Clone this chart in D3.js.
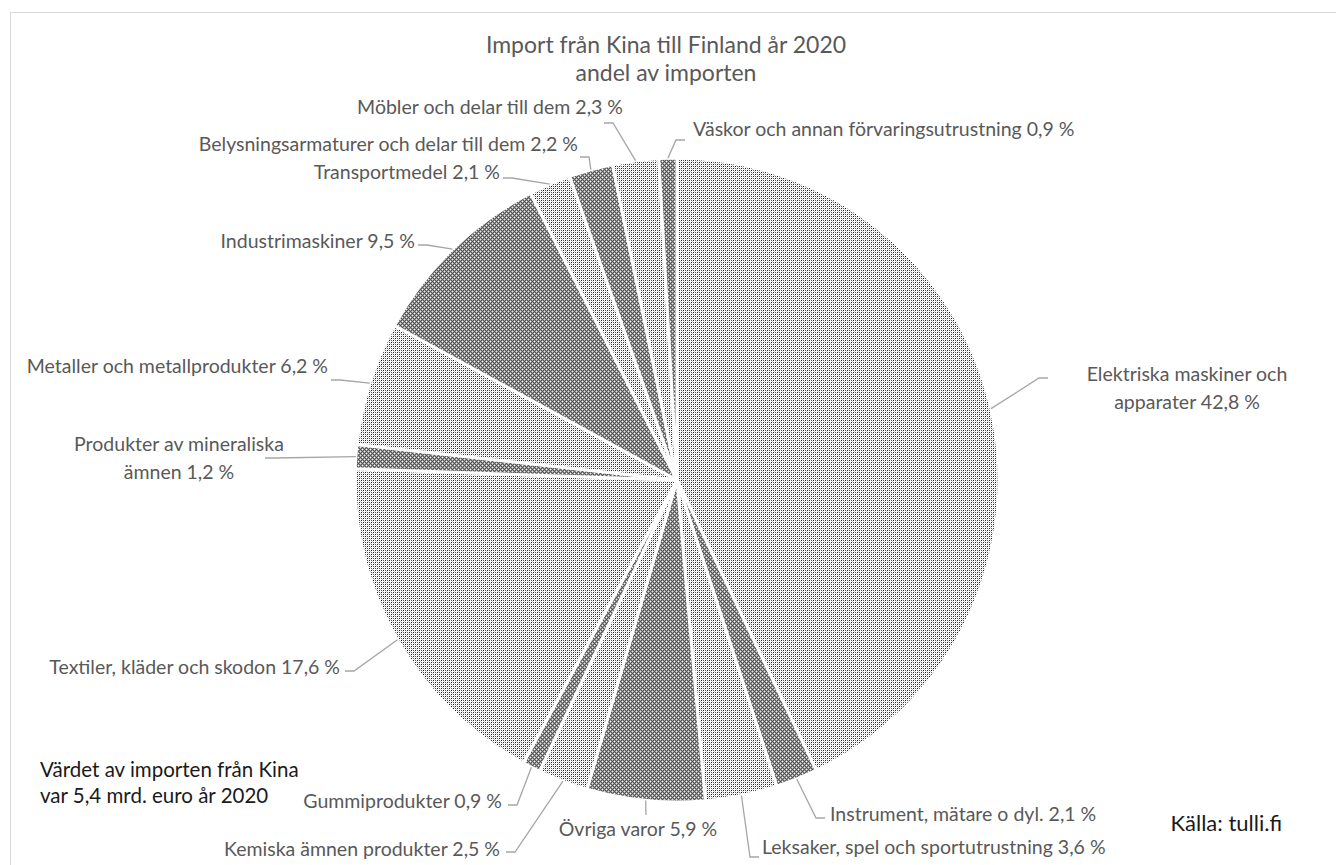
<!DOCTYPE html>
<html>
<head>
<meta charset="utf-8">
<script src="https://cdn.jsdelivr.net/npm/d3@7"></script>
<style>
body { margin: 0; background: #fff; }
text { font-family: Lato, "Open Sans", sans-serif; }
</style>
</head>
<body>
<div id="mypie"></div>
<script>
const categories = [
  "Elektriska maskiner och apparater",
  "Instrument, mätare o dyl.",
  "Leksaker, spel och sportutrustning",
  "Övriga varor",
  "Kemiska ämnen produkter",
  "Gummiprodukter",
  "Textiler, kläder och skodon",
  "Produkter av mineraliska ämnen",
  "Metaller och metallprodukter",
  "Industrimaskiner",
  "Transportmedel",
  "Belysningsarmaturer och delar till dem",
  "Möbler och delar till dem",
  "Väskor och annan förvaringsutrustning"
];
const shares = [42.8, 2.1, 3.6, 5.9, 2.5, 0.9, 17.6, 1.2, 6.2, 9.5, 2.1, 2.2, 2.3, 0.9];

const titleLines = ["Import från Kina till Finland år 2020", "andel av importen"];
const noteLines = ["Värdet av importen från Kina", "var 5,4 mrd. euro år 2020"];
const sourceText = "Källa: tulli.fi";

// where Excel put each data label: text x, baseline y, anchor, leader attach point, words on first line
const labelLayout = [
  {x: 1187, y: 381, anchor: "middle", attach: [1048, 378], br: 3},
  {x: 830, y: 821, anchor: "start", attach: [825, 818]},
  {x: 762, y: 854, anchor: "start", attach: [759, 857]},
  {x: 638, y: 836, anchor: "middle", attach: [646, 815]},
  {x: 500, y: 856, anchor: "end", attach: [506, 852]},
  {x: 502, y: 808, anchor: "end", attach: [508, 805]},
  {x: 340, y: 674, anchor: "end", attach: [345, 671]},
  {x: 179, y: 451, anchor: "middle", attach: [265, 458], br: 3},
  {x: 328, y: 373, anchor: "end", attach: [331, 380]},
  {x: 415, y: 248, anchor: "end", attach: [418, 245]},
  {x: 500, y: 179, anchor: "end", attach: [503, 178]},
  {x: 578, y: 151, anchor: "end", attach: [580, 157]},
  {x: 623, y: 114, anchor: "end", attach: [604, 123]},
  {x: 693, y: 136, anchor: "start", attach: [685, 140]}
];

const width = 1336;
const height = 865;
const cx = 677, cy = 480;
const radius = 322;

const data = categories.map((name, i) => ({name: name, value: shares[i]}));

const svg = d3.select("#mypie")
  .append("svg")
  .attr("width", width)
  .attr("height", height);

// fill patterns, the reference is printed in black & white
const defs = svg.append("defs");

function pixel(pat, x, y, c) {
  pat.append("rect").attr("x", x).attr("y", y).attr("width", 1).attr("height", 1)
    .attr("fill", c).attr("shape-rendering", "crispEdges");
}

const light = defs.append("pattern").attr("id", "light")
  .attr("patternUnits", "userSpaceOnUse").attr("width", 4).attr("height", 4);
light.append("rect").attr("width", 4).attr("height", 4).attr("fill", "#fff");
pixel(light, 0, 0, "#1e1e1e");
pixel(light, 2, 2, "#1e1e1e");
pixel(light, 0, 2, "#5a5a5a");
pixel(light, 2, 0, "#5a5a5a");
pixel(light, 1, 3, "#c8c8c8");
pixel(light, 3, 1, "#c8c8c8");

const dark = defs.append("pattern").attr("id", "dark")
  .attr("patternUnits", "userSpaceOnUse").attr("width", 4).attr("height", 4);
dark.append("rect").attr("width", 4).attr("height", 4).attr("fill", "#999");
for (let x = 0; x < 4; x++) {
  for (let y = 0; y < 4; y++) {
    if (x == 1 && y == 1) pixel(dark, x, y, "#fff");
    else if (x == 3 && y == 3) pixel(dark, x, y, "#e8e8e8");
    else if ((x + y) % 2 == 0) pixel(dark, x, y, "#555");
  }
}

// chart area border
svg.append("rect")
  .attr("x", 10.5).attr("y", 12.5)
  .attr("width", 1400).attr("height", 1000)
  .attr("fill", "none").attr("stroke", "#d9d9d9").attr("stroke-width", 1);

const fillScale = d3.scaleOrdinal(["url(#light)", "url(#dark)"]);

const pie = d3.pie().sort(null).value(d => d.value);
const path = d3.arc().innerRadius(0).outerRadius(radius);
const edge = d3.arc().innerRadius(radius).outerRadius(radius);

const arcs = pie(data);

const g = svg.append("g").attr("transform", `translate(${cx}, ${cy})`);

g.selectAll(".arc").data(arcs).enter().append("path")
  .attr("class", "arc")
  .attr("d", path)
  .attr("fill", (d, i) => fillScale(i % 2))
  .attr("stroke", "#fff")
  .attr("stroke-width", 3)
  .attr("stroke-linejoin", "round");

const fmt = v => v.toFixed(1).replace(".", ",") + "\u00a0%";

// leader lines
const line = d3.line();
svg.append("g").selectAll("path").data(arcs).enter().append("path")
  .attr("d", (d, i) => {
    const c = edge.centroid(d);
    const p0 = [cx + c[0], cy + c[1]];
    const a = labelLayout[i].attach;
    const dx = p0[0] - a[0];
    const s = Math.abs(dx) < 4 ? 0 : Math.sign(dx);
    return line([p0, [a[0] + s * 9, a[1]], a]);
  })
  .attr("fill", "none")
  .attr("stroke", "#a6a6a6")
  .attr("stroke-width", 1.3);

// data labels
const labels = svg.append("g").selectAll("text").data(arcs).enter().append("text")
  .attr("x", (d, i) => labelLayout[i].x)
  .attr("y", (d, i) => labelLayout[i].y)
  .attr("text-anchor", (d, i) => labelLayout[i].anchor)
  .attr("fill", "#595959")
  .style("font-size", "19.5px");

labels.each(function (d, i) {
  const words = (d.data.name + " " + fmt(d.data.value)).split(" ");
  const br = labelLayout[i].br;
  const lines = br ? [words.slice(0, br).join(" "), words.slice(br).join(" ")] : [words.join(" ")];
  d3.select(this).selectAll("tspan").data(lines).enter().append("tspan")
    .attr("x", labelLayout[i].x)
    .attr("dy", (t, j) => j == 0 ? 0 : 28)
    .text(t => t);
});

// title
svg.append("g").selectAll("text").data(titleLines).enter().append("text")
  .attr("x", 666)
  .attr("y", (d, i) => 53 + i * 28)
  .attr("text-anchor", "middle")
  .attr("fill", "#595959")
  .style("font-size", "23px")
  .text(d => d);

// note bottom left
svg.append("g").selectAll("text").data(noteLines).enter().append("text")
  .attr("x", 40)
  .attr("y", (d, i) => 777 + i * 26)
  .attr("fill", "#1a1a1a")
  .style("font-size", "20.5px")
  .text(d => d);

svg.append("text")
  .attr("x", 1282)
  .attr("y", 831)
  .attr("text-anchor", "end")
  .attr("fill", "#1a1a1a")
  .style("font-size", "22px")
  .text(sourceText);
</script>
</body>
</html>
